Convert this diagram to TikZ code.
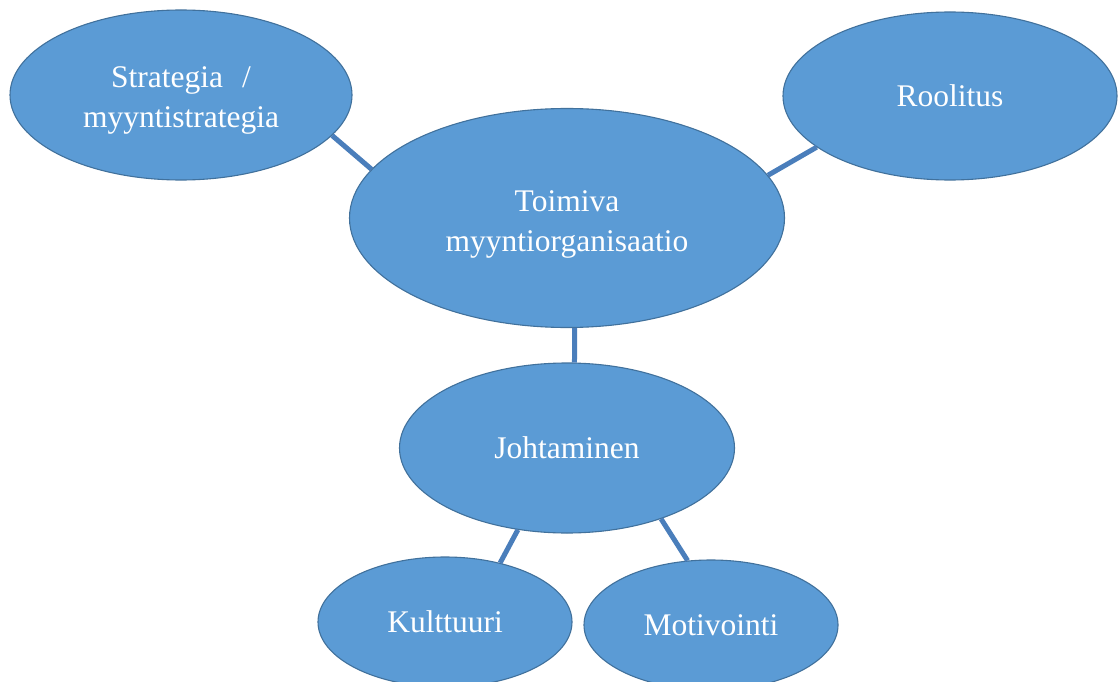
\documentclass[tikz,border=0pt]{standalone}
\usepackage{fontspec}
\setmainfont{Liberation Serif}
\usetikzlibrary{shapes.geometric}
\definecolor{bubblefill}{HTML}{5B9BD5}
\definecolor{bubbleedge}{HTML}{41719C}
\definecolor{linkcol}{HTML}{4A7EBB}
% two centred lines, 40pt apart, drawn a little below the bubble's centre
\newcommand{\twolines}[2]{\raisebox{-5pt}[\height][\depth]{\begin{tabular}{@{}c@{}}#1\\#2\end{tabular}}}
\begin{document}
\begin{tikzpicture}[x=1pt,y=-1pt,
  bubble/.style={ellipse, draw=bubbleedge, line width=1.1pt, fill=bubblefill,
    inner sep=0pt, align=center, text=white,
    font=\fontsize{31.5}{40}\selectfont},
  link/.style={draw=linkcol, line width=5pt}]
  \clip (0,0) rectangle (1118,682);
  \fill[white] (0,0) rectangle (1118,682);

  % concept bubbles
  \node[bubble, minimum width=342pt, minimum height=170pt] (strat) at (181,95)
    {\twolines{Strategia\hspace{0.6em}/}{myyntistrategia}};
  \node[bubble, minimum width=334pt, minimum height=168pt] (rool) at (950,96)
    {Roolitus};
  \node[bubble, minimum width=435pt, minimum height=219pt] (core) at (567,218)
    {\twolines{Toimiva}{myyntiorganisaatio}};
  \node[bubble, minimum width=335pt, minimum height=170pt] (lead) at (567,448)
    {Johtaminen};
  \node[bubble, minimum width=254pt, minimum height=130pt] (cult) at (445,622)
    {Kulttuuri};
  \node[bubble, minimum width=254pt, minimum height=130pt] (moti) at (711,625)
    {Motivointi};

  % connectors between bubbles
  \draw[link] (strat.-15) -- (core.166);
  \draw[link] (rool.-159) -- (core.12);
  \draw[link] (core.-86) -- (lead.85);
  \draw[link] (lead.-121) -- (cult.47);
  \draw[link] (lead.-37) -- (moti.110);
\end{tikzpicture}
\end{document}
